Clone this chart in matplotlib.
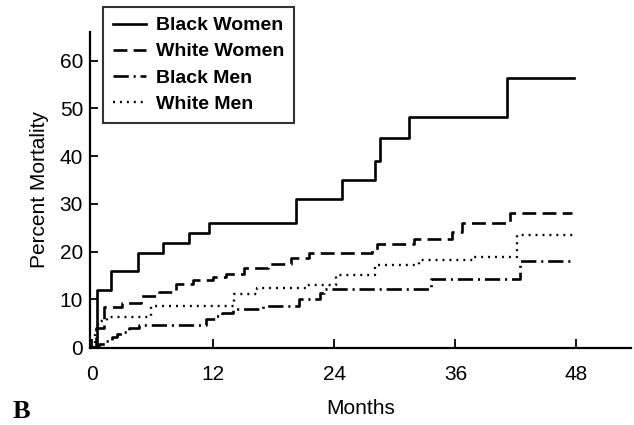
import matplotlib
matplotlib.use('Agg')
import matplotlib.pyplot as plt

plt.rcParams['font.family'] = ['Liberation Sans', 'DejaVu Sans']
plt.rcParams['lines.scale_dashes'] = False

# Kaplan-Meier style step data (month at which the step starts, percent mortality)
bw_months = [0, 0.5, 1.9, 4.6, 7.0, 9.6, 11.6, 20.2, 24.8, 28.0, 28.5, 31.4, 41.1, 47.8]
bw_pct = [0, 12, 16, 19.8, 21.7, 23.8, 26, 31, 35, 39, 43.7, 48.2, 56.4, 56.4]

ww_months = [0, 0.4, 1.2, 3.0, 4.9, 6.6, 8.3, 10.0, 12.0, 13.3, 15.1, 17.4, 19.7, 21.5,
             27.7, 28.2, 31.9, 35.7, 36.7, 41.4, 47.6]
ww_pct = [0, 4, 8.3, 9.3, 10.7, 11.6, 13.2, 14.0, 14.6, 15.2, 16.5, 17.4, 18.7, 19.6,
          20.4, 21.5, 22.7, 24.0, 25.9, 28.0, 28.0]

bm_months = [0, 0.7, 1.3, 2.0, 2.5, 3.0, 3.7, 4.7, 11.3, 12.3, 12.9, 14.0, 16.9, 20.5,
             22.6, 23.0, 33.6, 42.4, 47.5]
bm_pct = [0, 0.6, 1.3, 2.0, 2.7, 3.2, 3.9, 4.6, 5.9, 6.5, 7.1, 7.9, 8.6, 10.0,
          11.3, 12.2, 14.2, 18.1, 18.1]

wm_months = [0, 0.3, 0.6, 1.5, 5.8, 14.1, 16.3, 21.2, 24.2, 28.0, 32.4, 37.7, 42.1, 47.7]
wm_pct = [0, 3.5, 5.5, 6.3, 8.7, 11.1, 12.4, 13.1, 15.0, 17.1, 18.2, 18.8, 23.4, 23.4]

labels = ['Black Women', 'White Women', 'Black Men', 'White Men']
x_ticks = [0, 12, 24, 36, 48]
y_ticks = [0, 10, 20, 30, 40, 50, 60]

fig = plt.figure(figsize=(6.34, 4.25), dpi=100)
ax = fig.add_axes([90 / 634, 77 / 425, 541 / 634, 316 / 425])

ax.step(bw_months, bw_pct, where='post', color='black', lw=1.9, label=labels[0])
ax.step(ww_months, ww_pct, where='post', color='black', lw=1.9,
        dashes=(10, 4.5), label=labels[1])
ax.step(bm_months, bm_pct, where='post', color='black', lw=1.9,
        dashes=(11, 3.5, 1.5, 3.5), label=labels[2])
ax.step(wm_months, wm_pct, where='post', color='black', lw=1.7,
        dashes=(1.4, 3.6), label=labels[3])

ax.set_xlim(-0.2, 53.4)
ax.set_ylim(-0.2, 66)
ax.set_xticks(x_ticks)
ax.set_yticks(y_ticks)
ax.spines['top'].set_visible(False)
ax.spines['right'].set_visible(False)
ax.spines['left'].set_linewidth(1.6)
ax.spines['bottom'].set_linewidth(1.6)
ax.tick_params(axis='x', direction='in', length=6.5, width=1.3, pad=12, labelsize=15)
ax.tick_params(axis='y', direction='in', length=5.5, width=1.3, pad=5, labelsize=15)

ax.set_xlabel('Months', fontsize=15, labelpad=11)
ax.set_ylabel('Percent Mortality', fontsize=15, labelpad=8)

leg = fig.legend(loc='upper left', bbox_to_anchor=(103 / 634, 1 - 7 / 425),
                 bbox_transform=fig.transFigure, borderaxespad=0,
                 frameon=True, fancybox=False, edgecolor='black',
                 prop={'weight': 'bold', 'size': 14}, handlelength=1.7,
                 handletextpad=0.5, labelspacing=0.44, borderpad=0.5)
leg.get_frame().set_linewidth(1.5)

fig.text(13 / 634, 1 - 411 / 425, 'B', fontsize=19, fontweight='bold',
         family='Liberation Serif', va='center', ha='left')

fig.savefig('out.png', dpi=100)
